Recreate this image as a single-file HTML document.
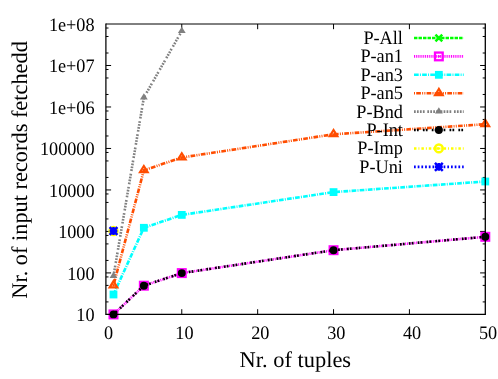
<!DOCTYPE html>
<html><head><meta charset="utf-8"><title>plot</title>
<style>html,body{margin:0;padding:0;background:#fff;overflow:hidden}svg{display:block;will-change:transform}text{font-family:"Liberation Serif",serif;fill:#000;text-rendering:geometricPrecision}</style></head><body>
<svg width="498" height="379" viewBox="0 0 498 379">
<rect width="498" height="379" fill="#fff"/>
<defs><clipPath id="pa"><rect x="105.90" y="24.00" width="379.40" height="290.40"/></clipPath></defs>
<path d="M105.90 301.91h2.60M485.30 301.91h-2.60M105.90 285.40h2.60M485.30 285.40h-2.60M105.90 276.93h2.60M485.30 276.93h-2.60M105.90 272.91h5.20M485.30 272.91h-5.20M105.90 260.43h2.60M485.30 260.43h-2.60M105.90 243.92h2.60M485.30 243.92h-2.60M105.90 235.45h2.60M485.30 235.45h-2.60M105.90 231.43h5.20M485.30 231.43h-5.20M105.90 218.94h2.60M485.30 218.94h-2.60M105.90 202.43h2.60M485.30 202.43h-2.60M105.90 193.96h2.60M485.30 193.96h-2.60M105.90 189.94h5.20M485.30 189.94h-5.20M105.90 177.45h2.60M485.30 177.45h-2.60M105.90 160.95h2.60M485.30 160.95h-2.60M105.90 152.48h2.60M485.30 152.48h-2.60M105.90 148.46h5.20M485.30 148.46h-5.20M105.90 135.97h2.60M485.30 135.97h-2.60M105.90 119.46h2.60M485.30 119.46h-2.60M105.90 110.99h2.60M485.30 110.99h-2.60M105.90 106.97h5.20M485.30 106.97h-5.20M105.90 94.48h2.60M485.30 94.48h-2.60M105.90 77.97h2.60M485.30 77.97h-2.60M105.90 69.51h2.60M485.30 69.51h-2.60M105.90 65.49h5.20M485.30 65.49h-5.20M105.90 53.00h2.60M485.30 53.00h-2.60M105.90 36.49h2.60M485.30 36.49h-2.60M105.90 28.02h2.60M485.30 28.02h-2.60M181.78 314.40v-5.20M181.78 24.00v5.20M257.66 314.40v-5.20M257.66 24.00v5.20M333.54 314.40v-5.20M333.54 24.00v5.20M409.42 314.40v-5.20M409.42 24.00v5.20" stroke="#000" stroke-width="1" fill="none"/>
<g font-size="17.80" text-anchor="end">
<text transform="translate(94.60 321.10) scale(1.025 1.070)">10</text>
<text transform="translate(94.60 279.61) scale(1.025 1.070)">100</text>
<text transform="translate(94.60 238.13) scale(1.025 1.070)">1000</text>
<text transform="translate(94.60 196.64) scale(1.025 1.070)">10000</text>
<text transform="translate(94.60 155.16) scale(1.025 1.070)">100000</text>
<text transform="translate(94.60 113.67) scale(1.025 1.070)">1e+06</text>
<text transform="translate(94.60 72.19) scale(1.025 1.070)">1e+07</text>
<text transform="translate(94.60 30.70) scale(1.025 1.070)">1e+08</text>
</g>
<g font-size="17.80" text-anchor="middle">
<text transform="translate(108.60 339.30) scale(1.025 1.070)">0</text>
<text transform="translate(184.48 339.30) scale(1.025 1.070)">10</text>
<text transform="translate(260.36 339.30) scale(1.025 1.070)">20</text>
<text transform="translate(336.24 339.30) scale(1.025 1.070)">30</text>
<text transform="translate(412.12 339.30) scale(1.025 1.070)">40</text>
<text transform="translate(488.00 339.30) scale(1.025 1.070)">50</text>
</g>
<text font-size="22.45" text-anchor="middle" x="295.30" y="367.40">Nr. of tuples</text>
<text font-size="22.35" text-anchor="middle" transform="translate(26.60 169.90) rotate(-90)">Nr. of input records fetchedd</text>
<text font-size="17.80" text-anchor="end" transform="translate(402.90 44.00) scale(1.025 1.070)">P-All</text>
<path d="M414.00 38.00H463.70" stroke="#00ff00" stroke-width="2.60" stroke-dasharray="3.43 1.08" fill="none"/>
<path d="M435.45 34.60L442.25 41.40M435.45 41.40L442.25 34.60" stroke="#00ff00" stroke-width="2.50" fill="none"/>
<text font-size="17.80" text-anchor="end" transform="translate(402.90 62.41) scale(1.025 1.070)">P-an1</text>
<path d="M414.00 56.41H463.70" stroke="#ff00ff" stroke-width="2.60" stroke-dasharray="0.99 0.86" fill="none"/>
<path d="M113.49 314.40L143.84 285.70L181.78 273.10L333.54 250.20L485.30 236.80" stroke="#ff00ff" stroke-width="2.60" stroke-dasharray="0.99 0.86" fill="none" clip-path="url(#pa)"/>
<rect x="435.00" y="52.56" width="7.70" height="7.70" stroke="#ff00ff" stroke-width="2.30" fill="none"/><circle cx="438.85" cy="56.41" r="1.15" fill="#ff00ff"/>
<rect x="109.64" y="310.55" width="7.70" height="7.70" stroke="#ff00ff" stroke-width="2.30" fill="none"/><circle cx="113.49" cy="314.40" r="1.15" fill="#ff00ff"/>
<rect x="139.99" y="281.85" width="7.70" height="7.70" stroke="#ff00ff" stroke-width="2.30" fill="none"/><circle cx="143.84" cy="285.70" r="1.15" fill="#ff00ff"/>
<rect x="177.93" y="269.25" width="7.70" height="7.70" stroke="#ff00ff" stroke-width="2.30" fill="none"/><circle cx="181.78" cy="273.10" r="1.15" fill="#ff00ff"/>
<rect x="329.69" y="246.35" width="7.70" height="7.70" stroke="#ff00ff" stroke-width="2.30" fill="none"/><circle cx="333.54" cy="250.20" r="1.15" fill="#ff00ff"/>
<rect x="481.45" y="232.95" width="7.70" height="7.70" stroke="#ff00ff" stroke-width="2.30" fill="none"/><circle cx="485.30" cy="236.80" r="1.15" fill="#ff00ff"/>
<text font-size="17.80" text-anchor="end" transform="translate(402.90 80.82) scale(1.025 1.070)">P-an3</text>
<path d="M414.00 74.82H463.70" stroke="#00ffff" stroke-width="2.60" stroke-dasharray="4.69 1.23 0.99 1.23" fill="none"/>
<path d="M113.49 294.50L143.84 227.80L181.78 214.90L333.54 192.10L485.30 181.50" stroke="#00ffff" stroke-width="2.60" stroke-dasharray="4.69 1.23 0.99 1.23" fill="none" clip-path="url(#pa)"/>
<rect x="434.95" y="70.92" width="7.80" height="7.80" fill="#00ffff"/>
<rect x="109.59" y="290.60" width="7.80" height="7.80" fill="#00ffff"/>
<rect x="139.94" y="223.90" width="7.80" height="7.80" fill="#00ffff"/>
<rect x="177.88" y="211.00" width="7.80" height="7.80" fill="#00ffff"/>
<rect x="329.64" y="188.20" width="7.80" height="7.80" fill="#00ffff"/>
<rect x="481.40" y="177.60" width="7.80" height="7.80" fill="#00ffff"/>
<text font-size="17.80" text-anchor="end" transform="translate(402.90 99.23) scale(1.025 1.070)">P-an5</text>
<path d="M414.00 93.23H463.70" stroke="#ff4d00" stroke-width="2.60" stroke-dasharray="0.99 1.23 4.69 1.23 0.99 1.23" fill="none"/>
<path d="M113.49 285.40L143.84 170.30L181.78 157.50L333.54 134.30L485.30 124.20" stroke="#ff4d00" stroke-width="2.60" stroke-dasharray="0.99 1.23 4.69 1.23 0.99 1.23" fill="none" clip-path="url(#pa)"/>
<path d="M438.85 88.97L435.05 95.13L442.65 95.13Z" stroke="#ff4d00" stroke-width="2.20" fill="none" stroke-linejoin="miter"/><circle cx="438.85" cy="93.23" r="1.10" fill="#ff4d00"/>
<path d="M113.49 281.14L109.69 287.30L117.29 287.30Z" stroke="#ff4d00" stroke-width="2.20" fill="none" stroke-linejoin="miter"/><circle cx="113.49" cy="285.40" r="1.10" fill="#ff4d00"/>
<path d="M143.84 166.04L140.04 172.20L147.64 172.20Z" stroke="#ff4d00" stroke-width="2.20" fill="none" stroke-linejoin="miter"/><circle cx="143.84" cy="170.30" r="1.10" fill="#ff4d00"/>
<path d="M181.78 153.24L177.98 159.40L185.58 159.40Z" stroke="#ff4d00" stroke-width="2.20" fill="none" stroke-linejoin="miter"/><circle cx="181.78" cy="157.50" r="1.10" fill="#ff4d00"/>
<path d="M333.54 130.04L329.74 136.20L337.34 136.20Z" stroke="#ff4d00" stroke-width="2.20" fill="none" stroke-linejoin="miter"/><circle cx="333.54" cy="134.30" r="1.10" fill="#ff4d00"/>
<path d="M485.30 119.94L481.50 126.10L489.10 126.10Z" stroke="#ff4d00" stroke-width="2.20" fill="none" stroke-linejoin="miter"/><circle cx="485.30" cy="124.20" r="1.10" fill="#ff4d00"/>
<text font-size="17.80" text-anchor="end" transform="translate(402.90 117.64) scale(1.025 1.070)">P-Bnd</text>
<path d="M414.00 111.64H463.70" stroke="#808080" stroke-width="2.60" stroke-dasharray="1.73 1.23 1.73 1.23 1.73 1.23 1.73 2.71" fill="none"/>
<path d="M113.49 276.10L143.84 97.60L181.78 31.00" stroke="#808080" stroke-width="2.60" stroke-dasharray="1.73 1.23 1.73 1.23 1.73 1.23 1.73 2.71" fill="none" clip-path="url(#pa)"/>
<path d="M438.85 107.27L434.95 113.59L442.75 113.59Z" fill="#808080"/>
<path d="M113.49 271.73L109.59 278.05L117.39 278.05Z" fill="#808080"/>
<path d="M143.84 93.23L139.94 99.55L147.74 99.55Z" fill="#808080"/>
<path d="M181.78 26.63L177.88 32.95L185.68 32.95Z" fill="#808080"/>
<text font-size="17.80" text-anchor="end" transform="translate(402.90 136.05) scale(1.025 1.070)">P-Int</text>
<path d="M414.00 130.05H463.70" stroke="#000000" stroke-width="2.60" stroke-dasharray="1.73 1.23 1.73 4.19" fill="none"/>
<path d="M113.49 314.40L143.84 285.70L181.78 273.10L333.54 250.20L485.30 236.80" stroke="#000000" stroke-width="2.60" stroke-dasharray="1.73 1.23 1.73 4.19" fill="none" clip-path="url(#pa)"/>
<circle cx="438.85" cy="130.05" r="3.95" fill="#000000"/>
<circle cx="113.49" cy="314.40" r="3.95" fill="#000000"/>
<circle cx="143.84" cy="285.70" r="3.95" fill="#000000"/>
<circle cx="181.78" cy="273.10" r="3.95" fill="#000000"/>
<circle cx="333.54" cy="250.20" r="3.95" fill="#000000"/>
<circle cx="485.30" cy="236.80" r="3.95" fill="#000000"/>
<text font-size="17.80" text-anchor="end" transform="translate(402.90 154.46) scale(1.025 1.070)">P-Imp</text>
<path d="M414.00 148.46H463.70" stroke="#ffff00" stroke-width="2.60" stroke-dasharray="2.47 1.97 0.99 1.97" fill="none"/>
<circle cx="438.85" cy="148.46" r="3.90" stroke="#ffff00" stroke-width="2.50" fill="none"/><circle cx="438.85" cy="148.46" r="1.25" fill="#ffff00"/>
<circle cx="113.49" cy="231.00" r="3.90" stroke="#ffff00" stroke-width="2.50" fill="none"/><circle cx="113.49" cy="231.00" r="1.25" fill="#ffff00"/>
<text font-size="17.80" text-anchor="end" transform="translate(402.90 172.87) scale(1.025 1.070)">P-Uni</text>
<path d="M414.00 166.87H463.70" stroke="#0000ff" stroke-width="2.60" stroke-dasharray="1.73 1.97" fill="none"/>
<path d="M434.95 162.97L442.75 170.77M434.95 170.77L442.75 162.97M438.85 162.97L438.85 170.77M434.95 166.87L442.75 166.87" stroke="#0000ff" stroke-width="2.50" fill="none"/>
<path d="M109.59 227.10L117.39 234.90M109.59 234.90L117.39 227.10M113.49 227.10L113.49 234.90M109.59 231.00L117.39 231.00" stroke="#0000ff" stroke-width="2.50" fill="none"/>
<g stroke="#000" fill="none">
<path d="M105.90 24.00H485.30" stroke-width="1.0"/>
<path d="M105.90 314.40H485.30" stroke-width="1.25"/>
<path d="M105.90 23.50V315.00" stroke-width="1.25"/>
<path d="M485.30 23.50V315.00" stroke-width="1.3"/>
</g>
</svg></body></html>
